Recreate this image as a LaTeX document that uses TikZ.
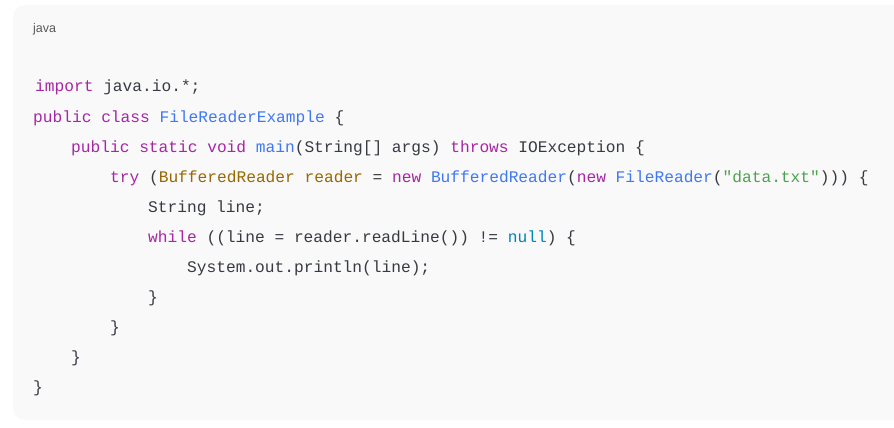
\documentclass[tikz,border=0pt]{standalone}
\usepackage{fontspec}
\setmainfont{Liberation Sans}
\setmonofont{Liberation Mono}
\usepackage{xcolor}
\definecolor{kw}{HTML}{A626A4}
\definecolor{cls}{HTML}{4078F2}
\definecolor{typ}{HTML}{986801}
\definecolor{str}{HTML}{50A14F}
\definecolor{lit}{HTML}{0184BC}
\definecolor{txt}{HTML}{383A42}
\definecolor{bg}{HTML}{F9F9F9}
\newcommand{\K}[1]{\textcolor{kw}{#1}}
\newcommand{\C}[1]{\textcolor{cls}{#1}}
\newcommand{\T}[1]{\textcolor{typ}{#1}}
\newcommand{\Sg}[1]{\textcolor{str}{#1}}
\newcommand{\Lt}[1]{\textcolor{lit}{#1}}
\begin{document}
\begin{tikzpicture}[x=1pt,y=-1pt,
    codeline/.style={anchor=base west, inner sep=0pt, text=txt,
      font=\ttfamily\fontsize{16.2}{18}\selectfont}]
        % Background
        \useasboundingbox (0,0) rectangle (894,428);
        \fill[white] (0,0) rectangle (894,428);
        \fill[bg, rounded corners=12pt] (13,5) rectangle (910,420);

        % Language label
        \node[anchor=base west, inner sep=0pt, text=black!65,
          font=\fontsize{12.5}{14}\selectfont] (lang) at (33,33) {java};

        % Code lines
        \node[codeline] (l1) at (35,92) {\K{import} java.io.*;};
        \node[codeline] (l2) at (33,122) {\K{public} \K{class} \C{FileReaderExample} \{};
        \node[codeline] (l3) at (71,152) {\K{public} \K{static} \K{void} \C{main}(String[] args) \K{throws} IOException \{};
        \node[codeline] (l4) at (110,182) {\K{try} (\T{BufferedReader} \T{reader} = \K{new} \C{BufferedReader}(\K{new} \C{FileReader}(\Sg{"data.txt"}))) \{};
        \node[codeline] (l5) at (148,212) {String line;};
        \node[codeline] (l6) at (148,242) {\K{while} ((line = reader.readLine()) != \Lt{null}) \{};
        \node[codeline] (l7) at (187,272) {System.out.println(line);};
        \node[codeline] (l8) at (148,302) {\}};
        \node[codeline] (l9) at (110,332) {\}};
        \node[codeline] (l10) at (71,362) {\}};
        \node[codeline] (l11) at (33,392) {\}};
\end{tikzpicture}
\end{document}
